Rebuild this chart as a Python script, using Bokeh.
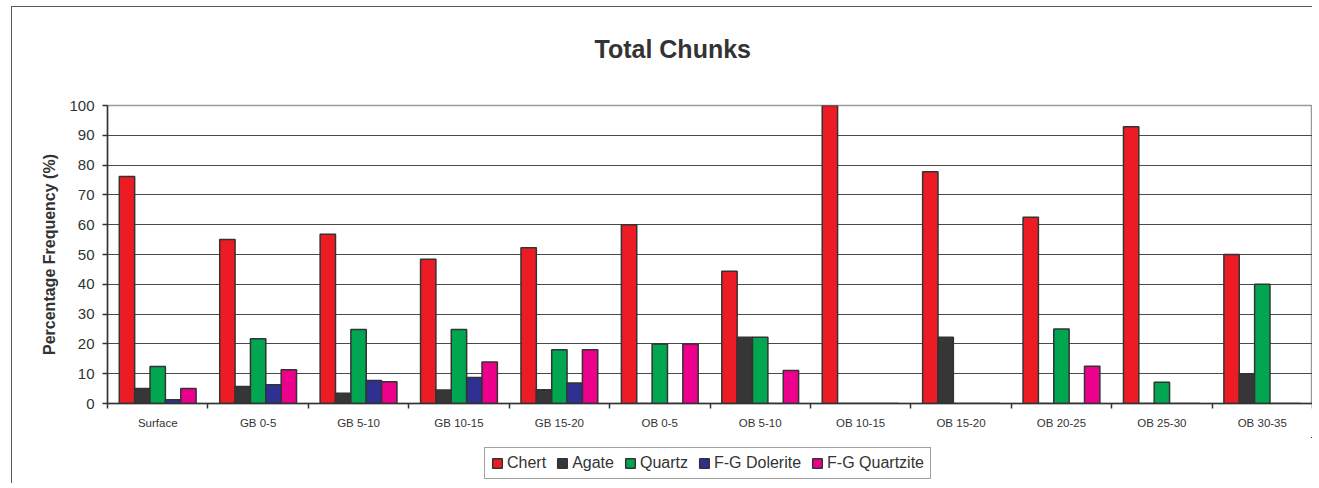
import numpy as np
from bokeh.plotting import figure
from bokeh.layouts import column
from bokeh.models import Range1d, FixedTicker, Legend, LegendItem, ColumnDataSource, Title
from bokeh.transform import dodge
from bokeh.embed import file_html
from bokeh.resources import INLINE

categories = ["Surface", "GB 0-5", "GB 5-10", "GB 10-15", "GB 15-20", "OB 0-5",
              "OB 5-10", "OB 10-15", "OB 15-20", "OB 20-25", "OB 25-30", "OB 30-35"]
chert = [76.2, 55.0, 56.8, 48.4, 52.3, 60.0, 44.4, 100.0, 77.8, 62.5, 92.9, 50.0]
agate = [5.0, 5.7, 3.4, 4.5, 4.6, 0.0, 22.2, 0.0, 22.2, 0.0, 0.0, 10.0]
quartz = [12.4, 21.7, 24.8, 24.8, 18.0, 20.0, 22.2, 0.0, 0.0, 25.0, 7.1, 40.0]
dolerite = [1.3, 6.3, 7.7, 8.7, 6.9, 0.0, 0.0, 0.0, 0.0, 0.0, 0.0, 0.0]
quartzite = [5.0, 11.3, 7.3, 13.9, 18.0, 20.0, 11.1, 0.0, 0.0, 12.5, 0.0, 0.0]
series_names = ["Chert", "Agate", "Quartz", "F-G Dolerite", "F-G Quartzite"]
series_colors = ["#ED1C24", "#363538", "#00A650", "#2E3192", "#EC008C"]
y_ticks = [0, 10, 20, 30, 40, 50, 60, 70, 80, 90, 100]

FONT = "Liberation Sans"
TXT = "#333333"

n = len(categories)
x_center = np.arange(n) + 0.5
src = ColumnDataSource(dict(x=x_center, c0=chert, c1=agate, c2=quartz, c3=dolerite, c4=quartzite))

p = figure(width=1300, height=430, x_range=Range1d(0, n), y_range=Range1d(0, 100),
           output_backend="svg", toolbar_location=None, title=None,
           min_border_left=95, min_border_right=0, min_border_top=98, min_border_bottom=34)
p.background_fill_color = "white"
p.border_fill_color = "white"
p.outline_line_color = "#9a9a9a"
p.outline_line_width = 1.5

# spacer between title and plot area (closest to the frame), then the title
p.add_layout(Title(text=" ", text_font=FONT, text_font_size="37px", standoff=0), "above")
p.add_layout(Title(text="Total Chunks", align="left", offset=487, standoff=0,
                   text_font=FONT, text_font_size="25px", text_font_style="bold",
                   text_color=TXT), "above")

bar_w = 0.153
offsets = (np.arange(5) - 2) * bar_w

# legend strip below the chart
p2 = figure(width=1300, height=46, x_range=Range1d(-100, -99), y_range=Range1d(-100, -99),
            output_backend="svg", toolbar_location=None, x_axis_type=None, y_axis_type=None,
            min_border_left=95, min_border_right=0, min_border_top=0, min_border_bottom=0)
p2.outline_line_color = None
p2.background_fill_color = "white"
p2.border_fill_color = "white"
p2.grid.visible = False

items = []
for i, (name, color) in enumerate(zip(series_names, series_colors)):
    p.vbar(x=dodge("x", float(offsets[i]), range=p.x_range), top="c%d" % i, bottom=0,
           width=bar_w, source=src, fill_color=color, line_color="#333333", line_width=1.5)
    r2 = p2.vbar(x="x", top="c%d" % i, bottom=0, width=bar_w, source=src,
                 fill_color=color, line_color="#333333", line_width=1.5)
    items.append(LegendItem(label=name, renderers=[r2]))

legend = Legend(items=items, orientation="horizontal", location=(377, 4),
                label_text_font=FONT, label_text_font_size="16px", label_text_color=TXT,
                glyph_width=12, glyph_height=12, label_standoff=4, spacing=10, padding=6,
                margin=0, border_line_color="#444444", border_line_width=1,
                background_fill_color="white", background_fill_alpha=1.0)
p2.add_layout(legend, "center")

xa = p.xaxis[0]
xa.ticker = FixedTicker(ticks=list(x_center), minor_ticks=list(np.arange(n + 1).astype(float)))
xa.major_label_overrides = {float(x): c for x, c in zip(x_center, categories)}
xa.major_tick_line_color = None
xa.major_tick_out = 0
xa.minor_tick_out = 5
xa.minor_tick_in = 0
xa.minor_tick_line_color = "#333333"
xa.minor_tick_line_width = 1.5
xa.axis_line_color = "#333333"
xa.axis_line_width = 1.5
xa.major_label_text_font = FONT
xa.major_label_text_font_size = "11.5px"
xa.major_label_text_color = TXT
xa.major_label_standoff = 8

ya = p.yaxis[0]
ya.ticker = FixedTicker(ticks=y_ticks)
ya.minor_tick_line_color = None
ya.major_tick_out = 5
ya.major_tick_in = 0
ya.major_tick_line_color = "#333333"
ya.major_tick_line_width = 1.5
ya.axis_line_color = "#333333"
ya.axis_line_width = 1.5
ya.major_label_text_font = FONT
ya.major_label_text_font_size = "15px"
ya.major_label_text_color = TXT
ya.major_label_standoff = 8
ya.axis_label = "Percentage Frequency (%)"
ya.axis_label_text_font = FONT
ya.axis_label_text_font_size = "16px"
ya.axis_label_text_font_style = "bold"
ya.axis_label_text_color = TXT
ya.axis_label_standoff = 8

p.xgrid.visible = False
p.ygrid.grid_line_color = "#4a4a4a"
p.ygrid.grid_line_width = 1

layout = column(p, p2, spacing=0,
                styles={"border-left": "1.5px solid #5a5a5a", "border-top": "1.5px solid #5a5a5a",
                        "margin-left": "11px", "margin-top": "6px"})

open("out.html", "w").write(file_html(layout, INLINE))
